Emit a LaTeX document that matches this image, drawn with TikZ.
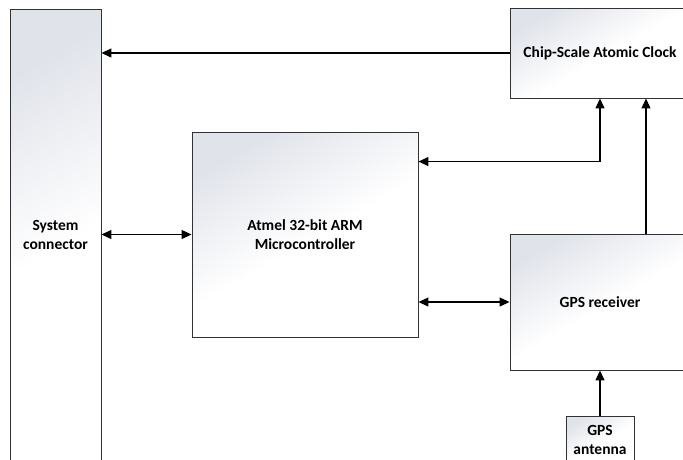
\documentclass[tikz,border=0pt]{standalone}
\usepackage{fontspec}
\setmainfont{Carlito}
\usetikzlibrary{arrows.meta,positioning,calc}
\definecolor{boxshade}{RGB}{224,227,234}
\definecolor{boxline}{RGB}{50,50,50}
\pgfdeclareverticalshading{boxfade}{100bp}{color(0bp)=(white); color(25bp)=(white); color(48bp)=(white); color(75bp)=(boxshade); color(100bp)=(boxshade)}

\begin{document}
\begin{tikzpicture}[x=1pt, y=-1pt, node distance=46pt,
    block/.style={rectangle, draw=boxline, line width=0.9pt, shading=boxfade, shading angle=30, inner sep=0pt, align=center, font=\fontsize{15.5}{19.5}\selectfont\bfseries},
    link/.style={>={Triangle[length=10pt,width=9pt]}, line width=1.2pt}
]
\useasboundingbox (0,0) rectangle (683,459);
\clip (0,0) rectangle (683,459);

% Blocks
\node[block, minimum width=91pt, minimum height=452pt] (sys) at (55.5,235) {System\\connector};
\node[block, minimum width=226pt, minimum height=205pt] (micro) at (305,234.5) {Atmel 32-bit ARM\\Microcontroller};
\node[block, minimum width=180pt, minimum height=90pt] (clock) at (600,53) {Chip-Scale Atomic Clock};
\node[block, minimum width=180pt, minimum height=136pt] (gps) at (600,302) {GPS receiver};
\node[block, minimum width=68pt, minimum height=46pt, below=of gps] (antenna) {GPS\\antenna};

% Arrows
\draw[link, ->] (clock.west) -- (clock.west -| sys.east);
\draw[link, <->] (sys.east |- micro.west) -- (micro.west);
\draw[link, <->] (micro.east |- gps.west) -- (gps.west);
\draw[link, <->] ($(micro.north east)+(0,30)$) -| (clock.south);
\draw[link, ->] ($(gps.north)+(46,0)$) -- ($(clock.south)+(46,0)$);
\draw[link, ->] (antenna) -- (gps);

\end{tikzpicture}
\end{document}
